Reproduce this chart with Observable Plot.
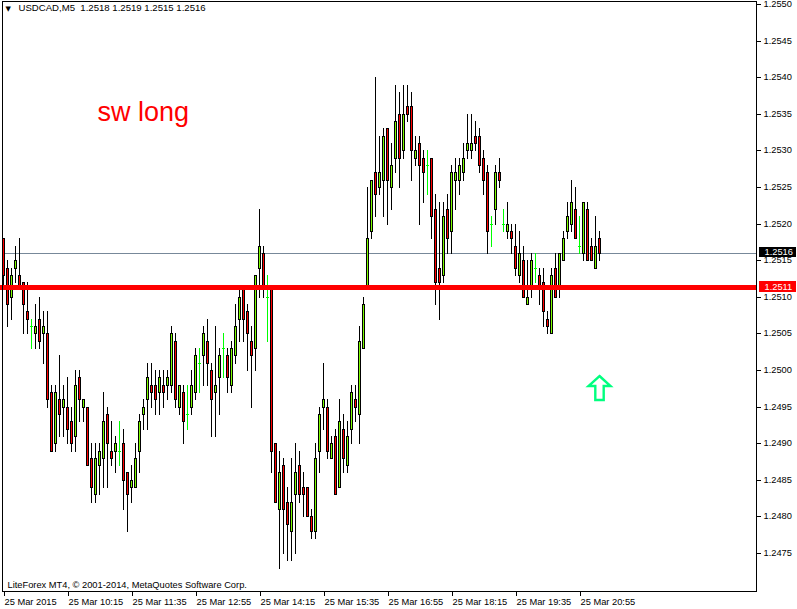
<!DOCTYPE html>
<html><head><meta charset="utf-8">
<script src="https://cdn.jsdelivr.net/npm/d3@7"></script>
<script src="https://cdn.jsdelivr.net/npm/@observablehq/plot@0.6"></script>
<style>html,body{margin:0;padding:0;background:#fff;overflow:hidden}</style>
</head><body><div id="chart"></div>
<script>
// ---- data (USDCAD, M5, 25 Mar 2015), bar index 0..149 ----
const openP = [1.2518,1.2514,1.2510,1.2514,1.2513,1.2512,1.2508,1.2506,1.2505,1.2507,
1.2505,1.2505,1.2497,1.2490,1.2496,1.2495,1.2495,1.2493,1.2491,1.2499,
1.2495,1.2495,1.2488,1.2483,1.2487,1.2488,1.2494,1.2489,1.2489,1.2489,
1.2490,1.2486,1.2484,1.2484,1.2489,1.2494,1.2496,1.2498,1.2498,1.2497,
1.2498,1.2498,1.2498,1.2504,1.2495,1.2497,1.2494,1.2495,1.2497,1.2501,
1.2502,1.2504,1.2500,1.2497,1.2499,1.2503,1.2502,1.2498,1.2502,1.2507,
1.2511,1.2508,1.2504,1.2503,1.2514,1.2516,1.2510,1.2511,1.2490,1.2481,
1.2487,1.2482,1.2478,1.2483,1.2487,1.2484,1.2484,1.2480,1.2478,1.2489,
1.2495,1.2495,1.2488,1.2491,1.2484,1.2492,1.2487,1.2492,1.2496,1.2494,
1.2503,1.2511,1.2519,1.2527,1.2525,1.2526,1.2533,1.2525,1.2529,1.2535,
1.2530,1.2536,1.2536,1.2529,1.2531,1.2529,1.2528,1.2529,1.2522,1.2514,
1.2513,1.2522,1.2519,1.2526,1.2526,1.2527,1.2530,1.2530,1.2532,1.2532,
1.2529,1.2527,1.2520,1.2522,1.2527,1.2520,1.2519,1.2519,1.2517,1.2513,
1.2515,1.2509,1.2511,1.2514,1.2513,1.2512,1.2507,1.2505,1.2514,1.2511,
1.2515,1.2519,1.2520,1.2522,1.2517,1.2516,1.2522,1.2517,1.2514,1.2518];
const highP = [1.2518,1.2515,1.2514,1.2517,1.2518,1.2512,1.2512,1.2507,1.2509,1.2510,
1.2508,1.2508,1.2498,1.2498,1.2502,1.2498,1.2499,1.2495,1.2500,1.2500,
1.2496,1.2495,1.2490,1.2490,1.2490,1.2497,1.2495,1.2493,1.2491,1.2493,
1.2492,1.2486,1.2487,1.2490,1.2494,1.2496,1.2501,1.2501,1.2500,1.2500,
1.2500,1.2500,1.2506,1.2505,1.2498,1.2498,1.2498,1.2500,1.2503,1.2503,
1.2506,1.2507,1.2501,1.2506,1.2503,1.2505,1.2503,1.2504,1.2509,1.2511,
1.2511,1.2509,1.2506,1.2513,1.2522,1.2517,1.2513,1.2511,1.2490,1.2489,
1.2488,1.2484,1.2488,1.2490,1.2489,1.2486,1.2484,1.2481,1.2490,1.2495,
1.2501,1.2496,1.2491,1.2492,1.2496,1.2494,1.2493,1.2498,1.2498,1.2506,
1.2510,1.2525,1.2526,1.2540,1.2532,1.2533,1.2533,1.2531,1.2539,1.2538,
1.2539,1.2539,1.2538,1.2532,1.2532,1.2530,1.2530,1.2529,1.2524,1.2523,
1.2523,1.2524,1.2528,1.2529,1.2529,1.2531,1.2535,1.2535,1.2534,1.2533,
1.2530,1.2528,1.2521,1.2528,1.2529,1.2522,1.2523,1.2520,1.2520,1.2519,
1.2517,1.2515,1.2516,1.2516,1.2514,1.2514,1.2508,1.2514,1.2516,1.2516,
1.2519,1.2523,1.2526,1.2525,1.2521,1.2523,1.2523,1.2518,1.2521,1.2519];
const lowP = [1.2511,1.2506,1.2507,1.2512,1.2511,1.2505,1.2505,1.2503,1.2503,1.2503,
1.2501,1.2495,1.2489,1.2489,1.2491,1.2491,1.2490,1.2489,1.2489,1.2493,
1.2493,1.2487,1.2482,1.2482,1.2483,1.2484,1.2484,1.2487,1.2486,1.2487,
1.2481,1.2478,1.2482,1.2484,1.2486,1.2492,1.2492,1.2495,1.2494,1.2494,
1.2495,1.2496,1.2497,1.2495,1.2494,1.2490,1.2492,1.2494,1.2496,1.2497,
1.2498,1.2498,1.2491,1.2491,1.2494,1.2499,1.2497,1.2497,1.2501,1.2504,
1.2504,1.2500,1.2495,1.2500,1.2510,1.2510,1.2504,1.2486,1.2482,1.2473,
1.2475,1.2474,1.2474,1.2475,1.2482,1.2480,1.2480,1.2477,1.2477,1.2486,
1.2492,1.2488,1.2488,1.2483,1.2484,1.2486,1.2486,1.2490,1.2493,1.2490,
1.2503,1.2511,1.2518,1.2521,1.2524,1.2521,1.2520,1.2522,1.2527,1.2525,
1.2529,1.2534,1.2526,1.2528,1.2520,1.2523,1.2524,1.2518,1.2509,1.2507,
1.2512,1.2516,1.2516,1.2522,1.2524,1.2526,1.2529,1.2529,1.2530,1.2527,
1.2524,1.2516,1.2517,1.2520,1.2525,1.2519,1.2518,1.2516,1.2513,1.2512,
1.2510,1.2509,1.2510,1.2512,1.2509,1.2506,1.2505,1.2505,1.2510,1.2510,
1.2515,1.2518,1.2519,1.2518,1.2516,1.2515,1.2515,1.2515,1.2514,1.2515];
const closeP = [1.2513,1.2509,1.2513,1.2515,1.2511,1.2509,1.2507,1.2506,1.2506,1.2504,
1.2506,1.2496,1.2489,1.2497,1.2494,1.2496,1.2492,1.2490,1.2498,1.2496,
1.2496,1.2487,1.2484,1.2488,1.2489,1.2493,1.2490,1.2488,1.2490,1.2489,
1.2485,1.2483,1.2485,1.2488,1.2493,1.2495,1.2499,1.2497,1.2496,1.2499,
1.2497,1.2499,1.2505,1.2496,1.2498,1.2493,1.2494,1.2498,1.2502,1.2501,
1.2505,1.2501,1.2496,1.2498,1.2502,1.2503,1.2499,1.2503,1.2506,1.2510,
1.2507,1.2505,1.2502,1.2513,1.2517,1.2511,1.2510,1.2489,1.2482,1.2486,
1.2481,1.2479,1.2482,1.2486,1.2483,1.2483,1.2480,1.2478,1.2488,1.2494,
1.2496,1.2489,1.2490,1.2483,1.2493,1.2488,1.2491,1.2497,1.2495,1.2504,
1.2509,1.2518,1.2526,1.2524,1.2527,1.2532,1.2526,1.2528,1.2534,1.2529,
1.2535,1.2535,1.2530,1.2530,1.2528,1.2527,1.2528,1.2521,1.2512,1.2512,
1.2521,1.2518,1.2527,1.2527,1.2528,1.2529,1.2531,1.2531,1.2531,1.2528,
1.2526,1.2519,1.2520,1.2527,1.2526,1.2520,1.2520,1.2518,1.2514,1.2516,
1.2510,1.2510,1.2515,1.2514,1.2511,1.2508,1.2506,1.2513,1.2510,1.2516,
1.2518,1.2521,1.2523,1.2518,1.2517,1.2523,1.2515,1.2515,1.2517,1.2516];

const timeTicks = [0,16,32,48,64,80,96,112,128,144];
const timeLabels = ["25 Mar 2015","25 Mar 10:15","25 Mar 11:35","25 Mar 12:55","25 Mar 14:15",
  "25 Mar 15:35","25 Mar 16:55","25 Mar 18:15","25 Mar 19:35","25 Mar 20:55"];
const priceTicks = [1.2475,1.2480,1.2485,1.2490,1.2495,1.2500,1.2505,1.2510,1.2515,1.2520,
  1.2525,1.2530,1.2535,1.2540,1.2545,1.2550];
const bidPrice = 1.2516;
const levelPrice = 1.25113;
const symbolName = "USDCAD,M5";
const noteText = "sw long";
const noteAt = {x: 23.5, y: 1.25352};
const arrowAt = {x: 149.1, y: 1.24977};
const copyrightText = "LiteForex MT4, \u00a9 2001-2014, MetaQuotes Software Corp.";

// ---- layout / style ----
const W = 797, H = 609;
const mL = 2, mR = 41, mT = 1, mB = 18;
const Y_DOMAIN = [1.246981, 1.255041];
const PX = (Y_DOMAIN[1] - Y_DOMAIN[0]) / (H - mB - mT);   // one pixel, in price units
const FONT = "'Liberation Sans', Arial, sans-serif";
const FS = 9.3;
const BULL = "#7CFC00", BEAR = "#FF0000", DOJI = "#00FF00";

const bars = openP.map((o, i) => ({i, o, h: highP[i], l: lowP[i], c: closeP[i]}));
const bull = bars.filter(d => d.c > d.o);
const bear = bars.filter(d => d.c < d.o);
const body = bull.concat(bear);
const doji = bars.filter(d => d.c === d.o);
const lastBar = bars[bars.length - 1];
const title = `${symbolName}\u00a0 ${lastBar.o.toFixed(4)} ${lastBar.h.toFixed(4)} ${lastBar.l.toFixed(4)} ${lastBar.c.toFixed(4)}`;

const bodyTop = d => Math.max(d.o, d.c), bodyBot = d => Math.min(d.o, d.c);
const CR = {shapeRendering: "crispEdges"};
const colX1 = d => d.i, colX2 = d => d.i + 0.25;           // 1px column at the bar centre
const wideX1 = d => d.i - 0.25, wideX2 = d => d.i + 0.5;   // 3px column

const boxX1 = 189, boxX2 = 198.2, boxTextX = 190.25;
const marks = [
  Plot.ruleY([bidPrice], {stroke: "#778899", strokeWidth: 1}),
  // wicks
  Plot.rect(body, {x1: colX1, x2: colX2, y1: "h", y2: d => d.l - PX, fill: "black", ...CR}),
  // bodies: 3px black box, then 1px coloured core
  Plot.rect(body, {x1: wideX1, x2: wideX2, y1: bodyTop, y2: d => bodyBot(d) - PX, fill: "black", ...CR}),
  Plot.rect(bull, {x1: colX1, x2: colX2, y1: d => bodyTop(d) - PX, y2: bodyBot, fill: BULL, ...CR}),
  Plot.rect(bear, {x1: colX1, x2: colX2, y1: d => bodyTop(d) - PX, y2: bodyBot, fill: BEAR, ...CR}),
  // doji crosses
  Plot.rect(doji, {x1: colX1, x2: colX2, y1: "h", y2: d => d.l - PX, fill: DOJI, ...CR}),
  Plot.rect(doji, {x1: wideX1, x2: wideX2, y1: "o", y2: d => d.o - PX, fill: DOJI, ...CR}),
  Plot.ruleY([levelPrice], {stroke: "#FF0000", strokeWidth: 5, x1: -0.75, x2: 188.25}),
  Plot.frame({stroke: "black"}),
  Plot.axisY({ticks: priceTicks, anchor: "right", tickSize: 4, tickPadding: 3, tickFormat: d => d.toFixed(4),
    textAnchor: "start", label: null, fontSize: FS, fontFamily: FONT}),
  Plot.axisX({ticks: timeTicks, anchor: "bottom", tickSize: 5, tickPadding: 2,
    tickFormat: d => timeLabels[timeTicks.indexOf(d)], textAnchor: "start", dx: 1, label: null, fontSize: FS, fontFamily: FONT}),
  // price label boxes on the right scale
  Plot.rect([bidPrice], {x1: boxX1, x2: boxX2, y1: d => d + 0.00008, y2: d => d - 0.00006, fill: "black", ...CR}),
  Plot.text([bidPrice], {x: boxTextX, y: d => d + 0.00001, text: d => d.toFixed(4), fill: "white", textAnchor: "start", fontSize: FS, fontFamily: FONT}),
  Plot.rect([levelPrice], {x1: boxX1, x2: boxX2, y1: d => d + 0.00008, y2: d => d - 0.00006, fill: "#FF0000", ...CR}),
  Plot.text([levelPrice], {x: boxTextX, y: d => d + 0.00001, text: d => d.toFixed(4), fill: "white", textAnchor: "start", fontSize: FS, fontFamily: FONT}),
  // header, note, arrow, copyright
  Plot.text(["\u25BC"], {frameAnchor: "top-left", dx: 3, dy: 5, textAnchor: "start", lineAnchor: "top", fontSize: 7, fontFamily: "'DejaVu Sans'", fill: "black"}),
  Plot.text([title], {frameAnchor: "top-left", dx: 16, dy: 3, textAnchor: "start", lineAnchor: "top", fontSize: FS + 0.3, fontFamily: FONT, fill: "black"}),
  Plot.text([noteText], {x: noteAt.x, y: noteAt.y, textAnchor: "start", lineAnchor: "middle", fontSize: 27, fontFamily: FONT, fill: "#FF0000"}),
  Plot.dot([arrowAt], {x: "x", y: "y", r: 10, fill: "none", stroke: "#00FF7F", strokeWidth: 2.4,
    symbol: {draw(ctx) {
      ctx.moveTo(0, -11.5); ctx.lineTo(11, -1.5); ctx.lineTo(4.2, -1.5); ctx.lineTo(4.2, 12.5);
      ctx.lineTo(-4.2, 12.5); ctx.lineTo(-4.2, -1.5); ctx.lineTo(-11, -1.5); ctx.closePath();
    }}}),
  Plot.text([copyrightText], {frameAnchor: "bottom-left", dx: 5, dy: -4, textAnchor: "start", lineAnchor: "bottom", fontSize: FS, fontFamily: FONT, fill: "black"})
];

const chart = Plot.plot({
  width: W, height: H,
  marginLeft: mL, marginRight: mR, marginTop: mT, marginBottom: mB,
  x: {type: "linear", domain: [-0.25, 188.25], range: [mL, W - mR], round: true},
  y: {type: "linear", domain: Y_DOMAIN, range: [H - mB, mT], round: true},
  style: {background: "white", color: "black", fontFamily: FONT, fontSize: FS + "px", overflow: "visible"},
  marks
});
document.getElementById("chart").appendChild(chart);
</script>
</body></html>
